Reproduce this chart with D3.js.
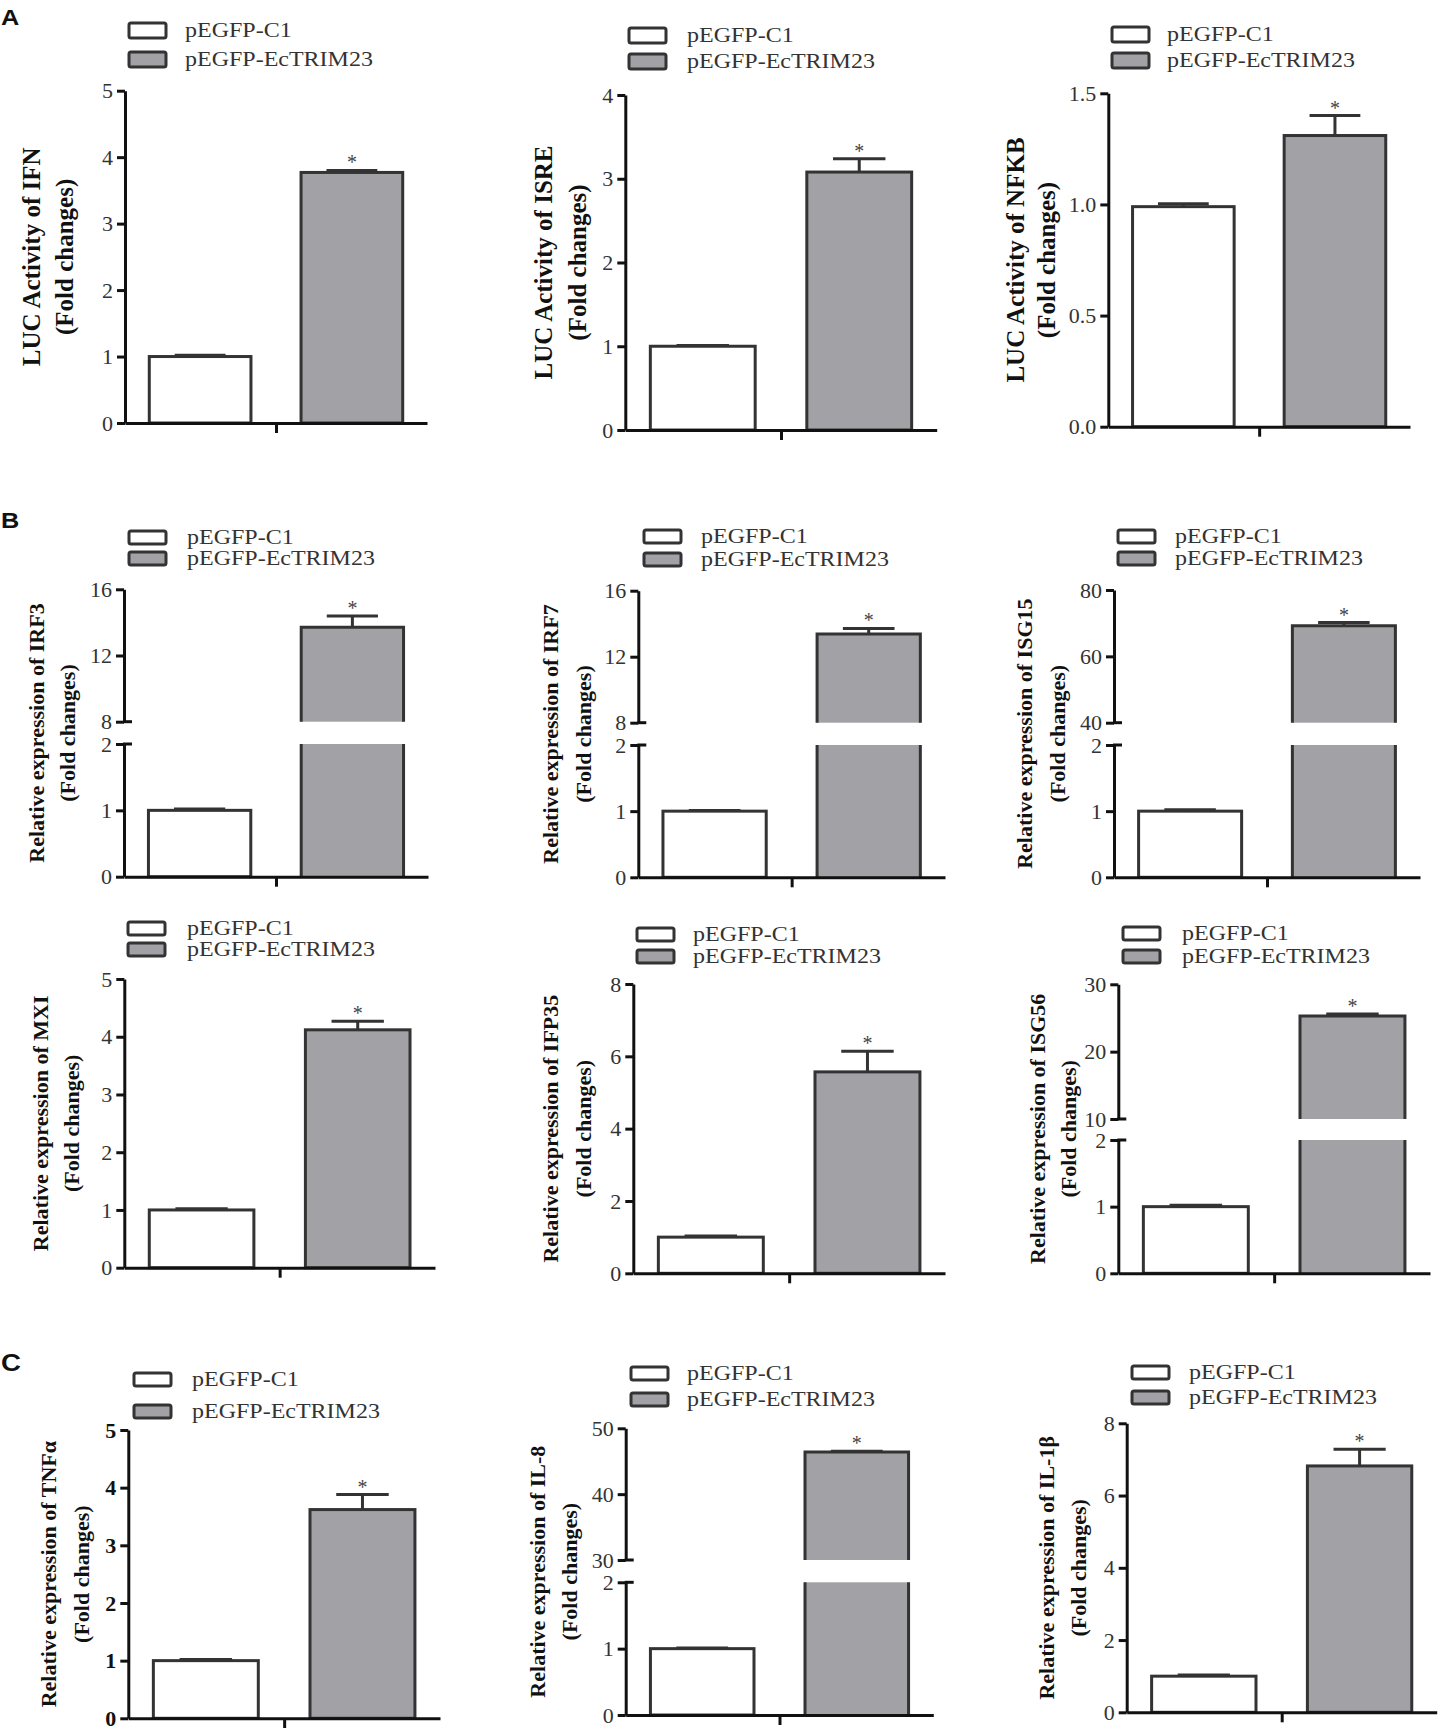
<!DOCTYPE html>
<html>
<head>
<meta charset="utf-8">
<script src="https://cdn.jsdelivr.net/npm/d3@7"></script>
<style>
  body { margin: 0; background: #fff; }
  svg { display: block; }
</style>
</head>
<body>
<div id="fig"></div>
<script>
// ---- data ----
var genes = ["IFN", "ISRE", "NFKB", "IRF3", "IRF7", "ISG15", "MX1", "IFP35", "ISG56", "TNFα", "IL-8", "IL-1β"];
var yTitles = [
  "LUC Activity of IFN", "LUC Activity of ISRE", "LUC Activity of NFKB",
  "Relative expression of IRF3", "Relative expression of IRF7", "Relative expression of ISG15",
  "Relative expression of MXI", "Relative expression of IFP35", "Relative expression of ISG56",
  "Relative expression of TNFα", "Relative expression of IL-8", "Relative expression of IL-1β"
];
var groups = ["pEGFP-C1", "pEGFP-EcTRIM23"];
var ctrlMean = [1.0, 1.0, 0.99, 1.0, 1.0, 1.0, 1.0, 1.0, 1.0, 1.0, 1.0, 1.0];
var ctrlErr  = [0.02, 0.01, 0.013, 0.02, 0.01, 0.02, 0.02, 0.03, 0.02, 0.02, 0.01, 0.03];
var trtMean  = [3.77, 3.08, 1.31, 13.7, 13.38, 69.2, 4.12, 5.57, 25.3, 3.62, 46.4, 6.82];
var trtErr   = [0.03, 0.16, 0.09, 0.68, 0.33, 1.0, 0.15, 0.57, 0.3, 0.26, 0.1, 0.46];

// lower (or only) axis segment
var lowDomain = [[0, 5], [0, 4], [0, 1.5], [0, 2], [0, 2], [0, 2], [0, 5], [0, 8], [0, 2], [0, 5], [0, 2], [0, 8]];
var lowTicks = [
  [0, 1, 2, 3, 4, 5], [0, 1, 2, 3, 4], [0, 0.5, 1.0, 1.5], [0, 1, 2], [0, 1, 2], [0, 1, 2],
  [0, 1, 2, 3, 4, 5], [0, 2, 4, 6, 8], [0, 1, 2], [0, 1, 2, 3, 4, 5], [0, 1, 2], [0, 2, 4, 6, 8]
];
// upper segment of broken axes (null = no break)
var highDomain = [null, null, null, [8, 16], [8, 16], [40, 80], null, null, [10, 30], null, [30, 50], null];
var highTicks = [null, null, null, [8, 12, 16], [8, 12, 16], [40, 60, 80], null, null, [10, 20, 30], null, [30, 40, 50], null];
var tickFormats = ["d", "d", ".1f", "d", "d", "d", "d", "d", "d", "d", "d", "d"];
var panelLetters = ["A", "B", "C"];

// ---- layout (pixels) ----
var layout = [
  {ax: 125,    xEnd: 427,    yTop: 90.7,   y0: 423,    leg: [129, 23, 52, 185],    lh: 15, lab: [-93, -60], fs: 25},
  {ax: 625.3,  xEnd: 936.7,  yTop: 95,     y0: 430,    leg: [629, 28, 54, 687],    lh: 15, lab: [-82, -48], fs: 25},
  {ax: 1108.3, xEnd: 1410,   yTop: 93.3,   y0: 426.7,  leg: [1112, 27, 53, 1167],  lh: 15, lab: [-93, -62], fs: 25},
  {ax: 124,    xEnd: 428,    yTop: 589.3,  yBH: 721.7, yBL: 744,  y0: 876.7,  leg: [129, 531, 552, 187],  lh: 13, lab: [-87, -56], fs: 22},
  {ax: 638.3,  xEnd: 945,    yTop: 590.7,  yBH: 722.7, yBL: 745,  y0: 877.3,  leg: [644, 530, 553, 701],  lh: 13, lab: [-88, -55], fs: 22},
  {ax: 1114,   xEnd: 1420,   yTop: 590,    yBH: 722.7, yBL: 745,  y0: 877.3,  leg: [1118, 530, 552, 1175], lh: 13, lab: [-89, -56], fs: 22},
  {ax: 124.3,  xEnd: 435,    yTop: 979,    y0: 1267.7, leg: [128, 922, 943, 187],  lh: 13, lab: [-84, -53], fs: 22},
  {ax: 633.3,  xEnd: 945,    yTop: 984,    y0: 1273.3, leg: [637, 928, 950, 693],  lh: 13, lab: [-83, -50], fs: 22},
  {ax: 1118.3, xEnd: 1430,   yTop: 984.3,  yBH: 1119,  yBL: 1140, y0: 1273.3, leg: [1123, 927, 950, 1182], lh: 13, lab: [-81, -50], fs: 22},
  {ax: 128.3,  xEnd: 440,    yTop: 1430,   y0: 1718.3, leg: [134, 1373, 1405, 192], lh: 13, lab: [-80, -47], fs: 22, boldTicks: true},
  {ax: 625.7,  xEnd: 933.3,  yTop: 1428.3, yBH: 1560,  yBL: 1582.3, y0: 1715, leg: [631, 1367, 1393, 687], lh: 13, lab: [-88, -56], fs: 22},
  {ax: 1126.7, xEnd: 1436.7, yTop: 1423.3, y0: 1712.3, leg: [1132, 1366, 1391, 1189], lh: 13, lab: [-80, -48], fs: 22}
];
var letterPos = [[1, 25, 22], [1, 528, 22], [1, 1371, 24]];

var serif = "'Liberation Serif', 'Times New Roman', serif";
var fills = ["#ffffff", "#a1a1a6"];
var barStroke = "#333";

var svg = d3.select("#fig").append("svg")
  .attr("width", 1438)
  .attr("height", 1728);

// panel letters
panelLetters.forEach(function(t, i) {
  svg.append("text")
    .attr("transform", "translate(" + letterPos[i][0] + "," + letterPos[i][1] + ") scale(1.15,1)")
    .attr("font-family", "'Liberation Sans', Arial, sans-serif")
    .attr("font-weight", "bold")
    .attr("font-size", letterPos[i][2])
    .attr("fill", "#111")
    .text(t);
});

function styleAxis(g, bold) {
  g.selectAll("path.domain").attr("stroke", "#111").attr("stroke-width", 3);
  g.selectAll(".tick line").attr("stroke", "#111").attr("stroke-width", 3);
  g.selectAll(".tick text")
    .attr("font-family", serif)
    .attr("font-size", 22)
    .attr("font-weight", bold ? "bold" : "normal")
    .attr("fill", bold ? "#111" : "#333");
}

genes.forEach(function(gene, i) {
  var L = layout[i];
  var g = svg.append("g").attr("class", "chart");
  var broken = highDomain[i] !== null;

  // scales
  var x = d3.scaleBand()
    .domain(groups)
    .range([L.ax, L.xEnd])
    .paddingInner(0.33)
    .paddingOuter(0.16);

  var yLow = d3.scaleLinear()
    .domain(lowDomain[i])
    .range([L.y0, broken ? L.yBL : L.yTop]);
  var yHigh = broken ? d3.scaleLinear().domain(highDomain[i]).range([L.yBH, L.yTop]) : null;

  function yPos(v) {
    if (broken && v > lowDomain[i][1]) return yHigh(v);
    return yLow(v);
  }

  // bars
  var means = [ctrlMean[i], trtMean[i]];
  var errs = [ctrlErr[i], trtErr[i]];

  groups.forEach(function(grp, k) {
    var x0 = x(grp), x1 = x(grp) + x.bandwidth();
    var top = yPos(means[k]);
    if (broken && means[k] > lowDomain[i][1]) {
      g.append("rect")
        .attr("x", x0).attr("y", top)
        .attr("width", x.bandwidth()).attr("height", L.yBH - top)
        .attr("fill", fills[k]);
      g.append("rect")
        .attr("x", x0).attr("y", L.yBL)
        .attr("width", x.bandwidth()).attr("height", L.y0 - L.yBL)
        .attr("fill", fills[k]);
      g.append("path")
        .attr("d", "M" + x0 + "," + L.yBH + "V" + top + "H" + x1 + "V" + L.yBH +
                   "M" + x0 + "," + L.yBL + "V" + L.y0 + "M" + x1 + "," + L.yBL + "V" + L.y0)
        .attr("fill", "none")
        .attr("stroke", barStroke)
        .attr("stroke-width", 3);
    } else {
      g.append("rect")
        .attr("x", x0).attr("y", top)
        .attr("width", x.bandwidth()).attr("height", L.y0 - top)
        .attr("fill", fills[k])
        .attr("stroke", barStroke)
        .attr("stroke-width", 3);
    }

    // error bar (upper half)
    var cx = x0 + x.bandwidth() / 2;
    var ye = yPos(means[k] + errs[k]);
    var capW = x.bandwidth() / 2;
    g.append("line")
      .attr("x1", cx).attr("x2", cx)
      .attr("y1", top).attr("y2", ye)
      .attr("stroke", barStroke).attr("stroke-width", 3);
    g.append("line")
      .attr("x1", cx - capW / 2).attr("x2", cx + capW / 2)
      .attr("y1", ye).attr("y2", ye)
      .attr("stroke", barStroke).attr("stroke-width", 3);

    if (k === 1) {
      g.append("text")
        .attr("x", cx)
        .attr("y", ye - 1)
        .attr("text-anchor", "middle")
        .attr("font-family", serif)
        .attr("font-size", 20)
        .attr("fill", "#444")
        .text("*");
    }
  });

  // y axes
  var fmt = d3.format(tickFormats[i]);
  var lowAxis = d3.axisLeft(yLow)
    .tickValues(lowTicks[i])
    .tickFormat(fmt)
    .tickSize(8)
    .tickSizeOuter(0)
    .tickPadding(4);
  var gl = g.append("g")
    .attr("transform", "translate(" + L.ax + ",0)")
    .call(lowAxis);
  styleAxis(gl, L.boldTicks);

  if (broken) {
    var highAxis = d3.axisLeft(yHigh)
      .tickValues(highTicks[i])
      .tickFormat(fmt)
      .tickSize(8)
      .tickSizeOuter(0)
      .tickPadding(4);
    var gh = g.append("g")
      .attr("transform", "translate(" + L.ax + ",0)")
      .call(highAxis);
    styleAxis(gh, L.boldTicks);
    // break marks cross the axis
    [L.yBH, L.yBL].forEach(function(yy) {
      g.append("line")
        .attr("x1", L.ax - 1).attr("x2", L.ax + 8)
        .attr("y1", yy).attr("y2", yy)
        .attr("stroke", "#111").attr("stroke-width", 3);
    });
  }

  // x axis with a single centre tick
  var xl = d3.scaleLinear().domain([0, 1]).range([L.ax, L.xEnd]);
  var gx = g.append("g")
    .attr("transform", "translate(0," + L.y0 + ")")
    .call(d3.axisBottom(xl).tickValues([0.5]).tickFormat("").tickSize(10).tickSizeOuter(0));
  styleAxis(gx, false);

  // y title (two lines)
  var cy = (L.yTop + L.y0) / 2;
  var lines = [yTitles[i], "(Fold changes)"];
  lines.forEach(function(t, j) {
    var cxl = L.ax + L.lab[j] + L.fs * 0.33;
    g.append("text")
      .attr("transform", "translate(" + cxl + "," + cy + ") rotate(-90)")
      .attr("text-anchor", "middle")
      .attr("font-family", serif)
      .attr("font-weight", "bold")
      .attr("font-size", L.fs)
      .attr("fill", "#111")
      .text(t);
  });

  // legend
  var leg = g.append("g");
  groups.forEach(function(grp, k) {
    var ry = L.leg[1 + k];
    leg.append("rect")
      .attr("x", L.leg[0]).attr("y", ry)
      .attr("width", 37).attr("height", L.lh)
      .attr("rx", 2)
      .attr("fill", fills[k])
      .attr("stroke", barStroke)
      .attr("stroke-width", 3);
    leg.append("text")
      .attr("transform", "translate(" + L.leg[3] + "," + (ry + L.lh / 2 + 6.5) + ") scale(1.2,1)")
      .attr("font-family", serif)
      .attr("font-size", 20)
      .attr("fill", "#333")
      .text(grp);
  });
});
</script>
</body>
</html>
